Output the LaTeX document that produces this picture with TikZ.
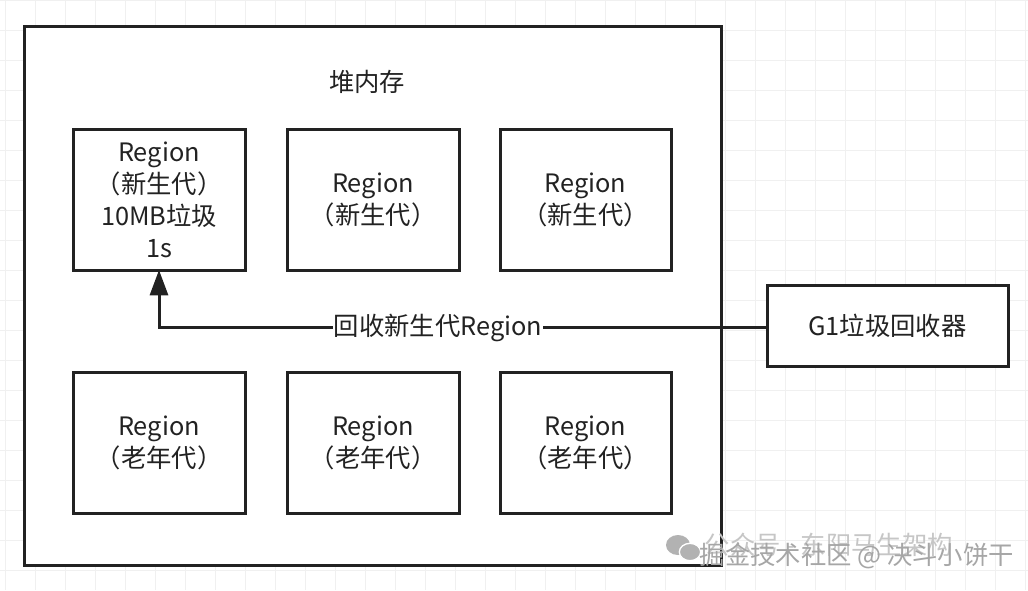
\documentclass[tikz,border=0pt]{standalone}
\usepackage{fontspec}
\setmainfont{Noto Sans CJK SC}
\usetikzlibrary{arrows.meta}
\definecolor{ink}{HTML}{222222}
\definecolor{gridc}{HTML}{F0F0F0}
\begin{document}
\begin{tikzpicture}[x=0.75pt,y=-0.75pt,
  box/.style={draw=ink,line width=2.25pt,fill=white},
  txt/.style={font=\fontsize{19}{24}\selectfont,text=ink,align=center},
  link/.style={draw=ink,line width=2.25pt,-{Triangle[length=19pt,width=13.5pt]}}]
\useasboundingbox (0,0) rectangle (1028,590);
\fill[white] (0,0) rectangle (1028,590);
\foreach \x in {5,35,...,1025} \draw[gridc,line width=0.75pt] (\x,0) -- (\x,590);
\foreach \y in {0,30,...,590} \draw[gridc,line width=0.75pt] (0,\y) -- (1028,\y);
% heap
\draw[box] (24,26) rectangle (721,565);
\node[txt] (title) at (367,82) {堆内存};
% young regions
\draw[box] (73,129) rectangle (245,270);
\node[txt] (r1) at (159,199.5) {Region\\（新生代）\\10MB垃圾\\1s};
\coordinate (r1b) at (159,270);
\draw[box] (287,129) rectangle (459,270);
\node[txt] (r2) at (373,199.5) {Region\\（新生代）};
\draw[box] (500,129) rectangle (671,270);
\node[txt] (r3) at (585.5,199.5) {Region\\（新生代）};
% old regions
\draw[box] (73,372) rectangle (245,513);
\node[txt] (o1) at (159,442.5) {Region\\（老年代）};
\draw[box] (287,372) rectangle (459,513);
\node[txt] (o2) at (373,442.5) {Region\\（老年代）};
\draw[box] (500,372) rectangle (671,513);
\node[txt] (o3) at (585.5,442.5) {Region\\（老年代）};
% G1
\node[box,txt,minimum width=180.75pt,minimum height=60.75pt,inner sep=0pt] (g1) at (887.5,326) {G1垃圾回收器};
\coordinate (bend) at (159,327);
\draw[link] (g1.west |- 0,327) -- (bend) -- (r1b);
\node[txt,fill=white,inner sep=1pt] (lbl) at (438,328) {回收新生代Region};
% watermark
\fill[gray!60] (678,545) ellipse (9pt and 7.5pt);
\fill[gray!60,draw=white,line width=1pt] (690,552) ellipse (8pt and 6.5pt);
\node[font=\fontsize{19}{20}\selectfont,text=gray!45,anchor=west] (wm1) at (700,545) {公众号 - 东阳马生架构};
\node[font=\fontsize{19}{20}\selectfont,text=gray!70,anchor=west] (wm2) at (695,556) {掘金技术社区 @ 决斗小饼干};
\end{tikzpicture}
\end{document}
